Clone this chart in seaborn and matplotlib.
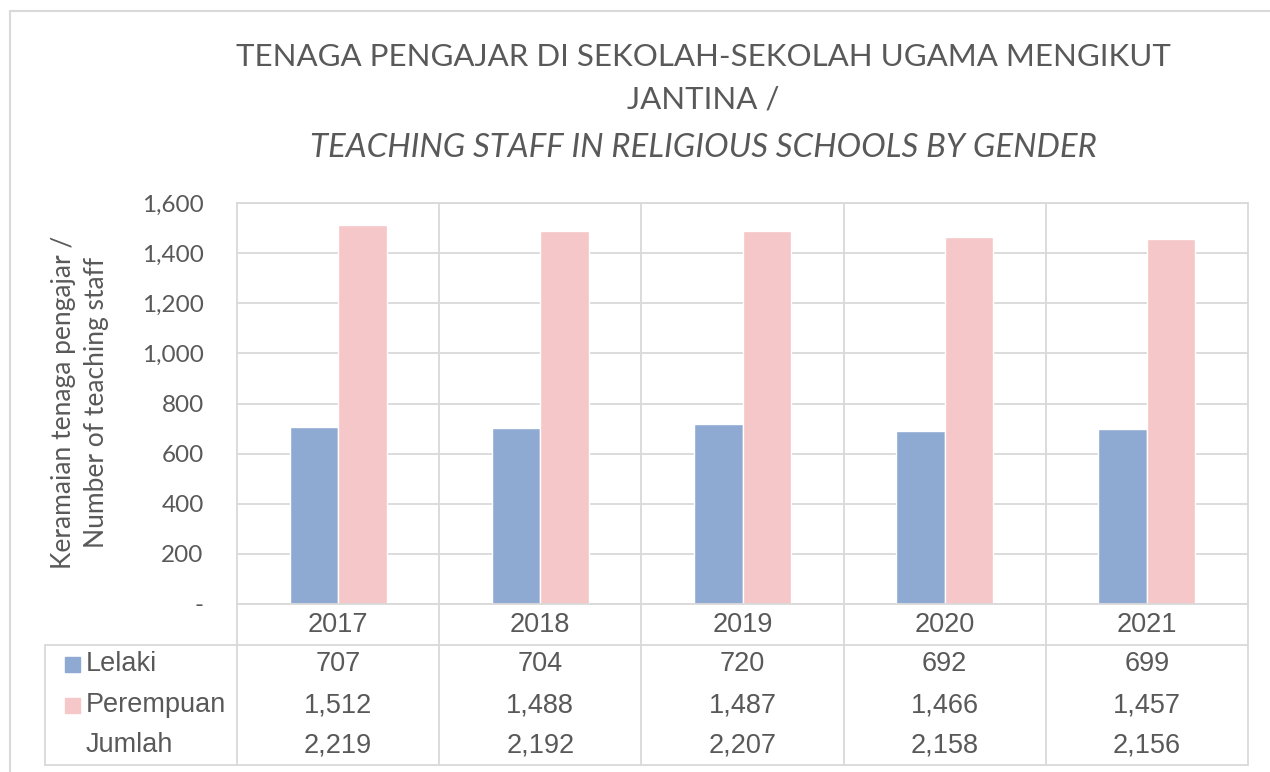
import numpy as np
import pandas as pd
import matplotlib
matplotlib.use("Agg")
import matplotlib.pyplot as plt
import matplotlib.transforms as mtransforms
from matplotlib.lines import Line2D
from matplotlib.patches import Rectangle
from matplotlib.ticker import FuncFormatter
import seaborn as sns

# data
years = ["2017", "2018", "2019", "2020", "2021"]
lelaki = [707, 704, 720, 692, 699]
perempuan = [1512, 1488, 1487, 1466, 1457]
jumlah = [2219, 2192, 2207, 2158, 2156]
series = ["Lelaki", "Perempuan"]
colours = {"Lelaki": "#8FAAD2", "Perempuan": "#F6C7C8"}

df = pd.DataFrame({
    "Tahun": years * 2,
    "Jantina": ["Lelaki"] * len(years) + ["Perempuan"] * len(years),
    "Bilangan": lelaki + perempuan,
})

sns.set_style("white")
plt.rcParams["font.family"] = ["Lato", "DejaVu Sans"]

W, H = 1270, 772
fig = plt.figure(figsize=(12.7, 7.72), dpi=100)

def fx(px):
    return px / W

def fy(py):
    return 1 - py / H

grey = "#D9D9D9"
txt = "#595959"

ax = fig.add_axes([fx(237), fy(604), fx(1248) - fx(237), fy(203) - fy(604)])
sns.barplot(data=df, x="Tahun", y="Bilangan", hue="Jantina", palette=colours,
            width=0.48, legend=False, ax=ax, saturation=1)

ax.set_ylim(0, 1600)
ax.set_xlim(-0.5, len(years) - 0.5)
ax.set_yticks(np.arange(0, 1601, 200))
ax.yaxis.set_major_formatter(FuncFormatter(lambda v, p: "-" if v == 0 else f"{int(v):,}"))
ax.tick_params(axis="y", labelsize=17.5, colors=txt, length=0, pad=24)
ax.set_xticks([])
ax.set_xlabel("")
ax.set_ylabel("")
ax.grid(axis="y", color=grey, lw=1.3)
ax.set_axisbelow(True)
for s in ax.spines.values():
    s.set_color(grey)
    s.set_linewidth(1.3)
for i in range(1, len(years)):
    ax.axvline(i - 0.5, color=grey, lw=1.3, zorder=0)

fig.text(fx(80), fy(402), "Keramaian tenaga pengajar /\nNumber of teaching staff",
         fontsize=19, color=txt, rotation=90, ha="center", va="center",
         linespacing=1.36, multialignment="center")

# data table under the chart
bt = mtransforms.blended_transform_factory(ax.transData, fig.transFigure)
n = len(years)
for i in range(n + 1):
    fig.add_artist(Line2D([i - 0.5, i - 0.5], [fy(604), fy(765)], transform=bt,
                          color=grey, lw=1.3))
fig.add_artist(Line2D([fx(45), fx(1248)], [fy(645), fy(645)], transform=fig.transFigure,
                      color=grey, lw=1.3))
fig.add_artist(Line2D([fx(45), fx(1248)], [fy(765), fy(765)], transform=fig.transFigure,
                      color=grey, lw=1.3))
fig.add_artist(Line2D([fx(45), fx(45)], [fy(645), fy(765)], transform=fig.transFigure,
                      color=grey, lw=1.3))

tfont = dict(family=["Liberation Sans", "DejaVu Sans"], fontsize=19.5, color=txt,
             ha="center", va="center")
rows = [("Lelaki", lelaki, 664), ("Perempuan", perempuan, 705), ("Jumlah", jumlah, 745)]
for i, yr in enumerate(years):
    fig.text(i, fy(625), yr, transform=bt, **tfont)
for name, vals, py in rows:
    for i, v in enumerate(vals):
        fig.text(i, fy(py), f"{v:,}", transform=bt, **tfont)
    fig.text(fx(86), fy(py), name, family=["Liberation Sans", "DejaVu Sans"],
             fontsize=19.5, color=txt, ha="left", va="center")
    if name in colours:
        fig.add_artist(Rectangle((fx(65), fy(py + 8)), fx(15), fy(0) - fy(15),
                                 transform=fig.transFigure, color=colours[name]))

# title
fig.text(fx(703), fy(57), "TENAGA PENGAJAR DI SEKOLAH-SEKOLAH UGAMA MENGIKUT",
         fontsize=22.5, color=txt, ha="center", va="center")
fig.text(fx(703), fy(100), "JANTINA /", fontsize=22.5, color=txt, ha="center",
         va="center")
fig.text(fx(703), fy(148), "TEACHING STAFF IN RELIGIOUS SCHOOLS BY GENDER",
         fontsize=23.8, color=txt, ha="center", va="center", style="italic")

# outer chart border
fig.add_artist(Line2D([fx(10), fx(10)], [fy(11), 0], transform=fig.transFigure,
                      color=grey, lw=1.5))
fig.add_artist(Line2D([fx(10), 1], [fy(11), fy(11)], transform=fig.transFigure,
                      color=grey, lw=1.5))

fig.savefig("out.png", dpi=100, facecolor="white")
